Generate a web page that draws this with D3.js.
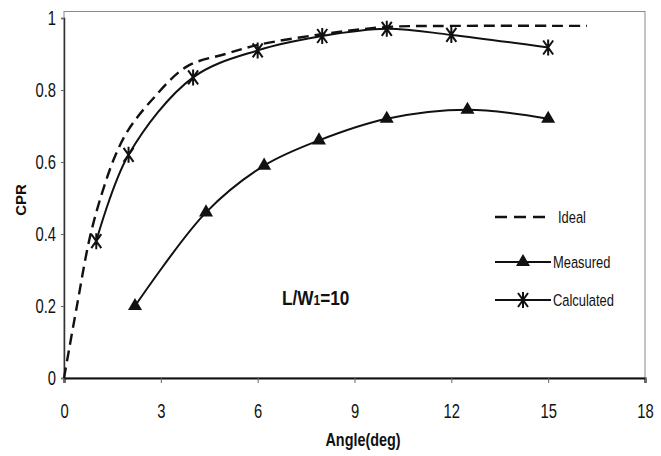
<!DOCTYPE html>
<html>
<head>
<meta charset="utf-8">
<script src="https://cdn.jsdelivr.net/npm/d3@7"></script>
<style>
  body { margin: 0; background: #fff; }
  text { font-family: "Liberation Sans Narrow", "Arial Narrow", "Liberation Sans", sans-serif; fill: #111; }
</style>
</head>
<body>
<svg id="chart" width="661" height="456"></svg>
<script>
// Data
const idealAngle = [0, 0.4, 0.8, 1.2, 1.6, 2, 2.7, 3.8, 5, 6, 8, 10, 12, 16.2];
const idealCpr   = [0, 0.2, 0.39, 0.52, 0.62, 0.69, 0.77, 0.865, 0.9, 0.925, 0.955, 0.975, 0.978, 0.978];

const measuredAngle = [2.2, 4.4, 6.2, 7.9, 10, 12.5, 15];
const measuredCpr   = [0.2, 0.46, 0.59, 0.66, 0.72, 0.745, 0.72];

const calcAngle = [1, 2, 4, 6, 8, 10, 12, 15];
const calcCpr   = [0.38, 0.62, 0.835, 0.91, 0.95, 0.97, 0.953, 0.918];

const xTicks = [0, 3, 6, 9, 12, 15, 18];
const yTicks = [0, 0.2, 0.4, 0.6, 0.8, 1];

const svg = d3.select('#chart');

// the picture uses a condensed face; squeeze the regular one to fit
const narrow = 0.74;

let x = d3.scaleLinear().domain([0, 18]).range([64, 645]);
let y = d3.scaleLinear().domain([0, 1]).range([378, 18]);

// frame (top and right are light)
svg.append('rect')
  .attr('x', x(0)).attr('y', y(1.018))
  .attr('width', x(18) - x(0)).attr('height', y(0) - y(1.018))
  .attr('fill', 'none').attr('stroke', '#888').attr('stroke-width', 1);

// axes
let xAxis = d3.axisBottom(x).tickValues(xTicks).tickSize(5).tickFormat(d3.format('d'));
let gx = svg.append('g').attr('transform', 'translate(0,' + y(0) + ')').call(xAxis);
gx.select('.domain').attr('stroke', '#111').attr('stroke-width', 2.2);
gx.selectAll('.tick line').attr('stroke', '#666');
gx.selectAll('.tick text')
  .attr('y', 40).attr('dy', 0)
  .attr('transform', 'scale(' + narrow + ',1)')
  .style('font-size', '20px');

let yAxis = d3.axisLeft(y).tickValues(yTicks).tickSize(3)
  .tickFormat(d => d == 0 || d == 1 ? d : d3.format('.1f')(d));
let gy = svg.append('g').attr('transform', 'translate(' + x(0) + ',0)').call(yAxis);
gy.select('.domain').attr('stroke', '#333').attr('stroke-width', 1.5);
gy.selectAll('.tick line').attr('stroke', '#666');
gy.selectAll('.tick text')
  .attr('x', -8 / narrow)
  .attr('transform', 'scale(' + narrow + ',1)')
  .style('font-size', '20px');

// helper for squeezed labels
function label(px, py, str, size, bold, sx) {
  let t = svg.append('g').attr('transform', 'translate(' + px + ',' + py + ')')
    .append('text')
    .attr('transform', 'scale(' + sx + ',1)')
    .style('font-size', size + 'px')
    .style('font-weight', bold ? 'bold' : 'normal');
  if (str != null) t.text(str);
  return t;
}

// axis titles
label(363, 446, 'Angle(deg)', 18, true, 0.8).attr('text-anchor', 'middle');

svg.append('text')
  .attr('transform', 'translate(26,200) rotate(-90)')
  .attr('text-anchor', 'middle')
  .style('font-size', '15px').style('font-weight', 'bold')
  .text('CPR');

// lines
let line = d3.line()
  .x(d => x(d[0]))
  .y(d => y(d[1]))
  .curve(d3.curveCatmullRom.alpha(0.5));

let ideal = d3.zip(idealAngle, idealCpr);
let measured = d3.zip(measuredAngle, measuredCpr);
let calc = d3.zip(calcAngle, calcCpr);

svg.append('path')
  .attr('d', line(ideal))
  .attr('fill', 'none').attr('stroke', '#111')
  .attr('stroke-width', 2.4).attr('stroke-dasharray', '11,6');

svg.append('path')
  .attr('d', line(measured))
  .attr('fill', 'none').attr('stroke', '#111').attr('stroke-width', 2);

svg.append('path')
  .attr('d', line(calc))
  .attr('fill', 'none').attr('stroke', '#111').attr('stroke-width', 2);

// markers
let triangle = d3.symbol().type(d3.symbolTriangle).size(85);
let star = 'M-5,-7L5,7M-5,7L5,-7M0,-8L0,8';

svg.selectAll('.tri')
  .data(measured)
  .enter()
  .append('path')
  .attr('class', 'tri')
  .attr('transform', d => 'translate(' + x(d[0]) + ',' + y(d[1]) + ')')
  .attr('d', triangle())
  .attr('fill', '#111');

svg.selectAll('.star')
  .data(calc)
  .enter()
  .append('path')
  .attr('class', 'star')
  .attr('transform', d => 'translate(' + x(d[0]) + ',' + y(d[1]) + ')')
  .attr('d', star)
  .attr('stroke', '#111').attr('stroke-width', 2).attr('fill', 'none');

// annotation
let note = label(282, 305, null, 20, true, 0.86);
note.append('tspan').text('L/W');
note.append('tspan').style('font-size', '14px').text('1');
note.append('tspan').text('=10');

// legend
let legendRows = [
  { label: 'Ideal', y: 217, type: 'dash' },
  { label: 'Measured', y: 262, type: 'tri' },
  { label: 'Calculated', y: 300, type: 'star' }
];

legendRows.forEach(r => {
  svg.append('line')
    .attr('x1', 495).attr('x2', 551)
    .attr('y1', r.y).attr('y2', r.y)
    .attr('stroke', '#111')
    .attr('stroke-width', r.type == 'dash' ? 2.4 : 1.8)
    .attr('stroke-dasharray', r.type == 'dash' ? '12,7' : null);
  if (r.type == 'tri') {
    svg.append('path')
      .attr('transform', 'translate(523,' + r.y + ')')
      .attr('d', triangle()).attr('fill', '#111');
  } else if (r.type == 'star') {
    svg.append('path')
      .attr('transform', 'translate(523,' + r.y + ')')
      .attr('d', star).attr('stroke', '#111').attr('stroke-width', 2);
  }
  label(r.type == 'dash' ? 558 : 553, r.y + 6, r.label, 17, false, 0.76);
});
</script>
</body>
</html>
